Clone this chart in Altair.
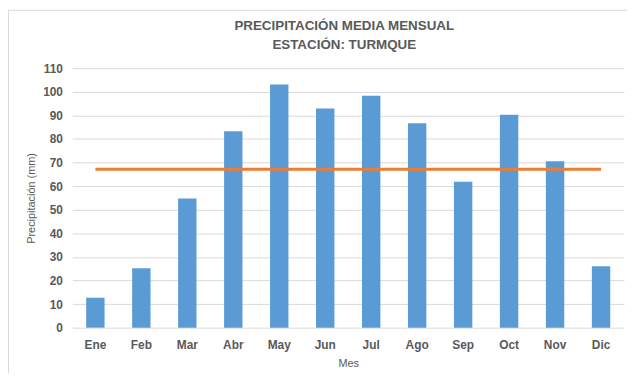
import altair as alt
import pandas as pd

meses = ["Ene", "Feb", "Mar", "Abr", "May", "Jun", "Jul", "Ago", "Sep", "Oct", "Nov", "Dic"]
precipitacion = [12.7, 25.2, 54.8, 83.3, 103.1, 92.9, 98.3, 86.7, 61.9, 90.3, 70.6, 26.0]
y_ticks = list(range(0, 111, 10))
titulo = ["PRECIPITACIÓN MEDIA MENSUAL", "ESTACIÓN: TURMQUE"]

df = pd.DataFrame({"Mes": meses, "Precipitacion": precipitacion})

GRAY = "#595959"
FONT = "Liberation Sans"
W, H = 557, 262

x_enc = alt.X("Mes:N", sort=meses, title="Mes",
              scale=alt.Scale(paddingInner=0.6, paddingOuter=0.3))
y_scale = alt.Scale(domain=[0, 110], nice=False)
y_axis = alt.Axis(values=y_ticks, labelOverlap=False)

bars = alt.Chart(df).mark_bar(color="#5B9BD5").encode(
    x=x_enc,
    y=alt.Y("Precipitacion:Q", scale=y_scale, title="Precipitación (mm)", axis=y_axis),
)

mean_line = alt.Chart(df).transform_joinaggregate(
    media="mean(Precipitacion)"
).mark_line(color="#ED7D31", strokeWidth=3).encode(
    x=alt.X("Mes:N", sort=meses),
    y=alt.Y("media:Q", scale=y_scale, title="Precipitación (mm)", axis=y_axis),
)

border = alt.Chart(alt.Data(values=[{"a": 1}])).mark_rect(
    filled=False, stroke="#D9D9D9", strokeWidth=1
).encode(
    x=alt.value(-64.5), x2=alt.value(700),
    y=alt.value(-58.5), y2=alt.value(700),
)

title_layers = [
    alt.Chart(alt.Data(values=[{"t": t}])).mark_text(
        font=FONT, fontSize=13.5, fontWeight="bold", color=GRAY,
        align="center", baseline="middle",
    ).encode(text="t:N", x=alt.value(W / 2 - 4), y=alt.value(yy))
    for t, yy in zip(titulo, [-43, -23])
]

chart = alt.layer(border, bars, mean_line, *title_layers).properties(
    width=W,
    height=H,
    autosize=alt.AutoSizeParams(type="none"),
    padding={"left": 65, "top": 59, "right": 3, "bottom": 44},
).configure_view(stroke=None).configure_axis(
    labelFont=FONT, titleFont=FONT,
    labelColor=GRAY, titleColor=GRAY,
    labelFontWeight="bold", labelFontSize=12,
    titleFontWeight="normal", titleFontSize=11,
    ticks=False, domain=False,
).configure_axisY(
    gridColor="#D9D9D9", labelPadding=10, titlePadding=6,
).configure_axisX(
    grid=False, labelPadding=12, titlePadding=7, labelAngle=0,
)

chart.save("out.html", embed_options={"renderer": "svg", "actions": False})
